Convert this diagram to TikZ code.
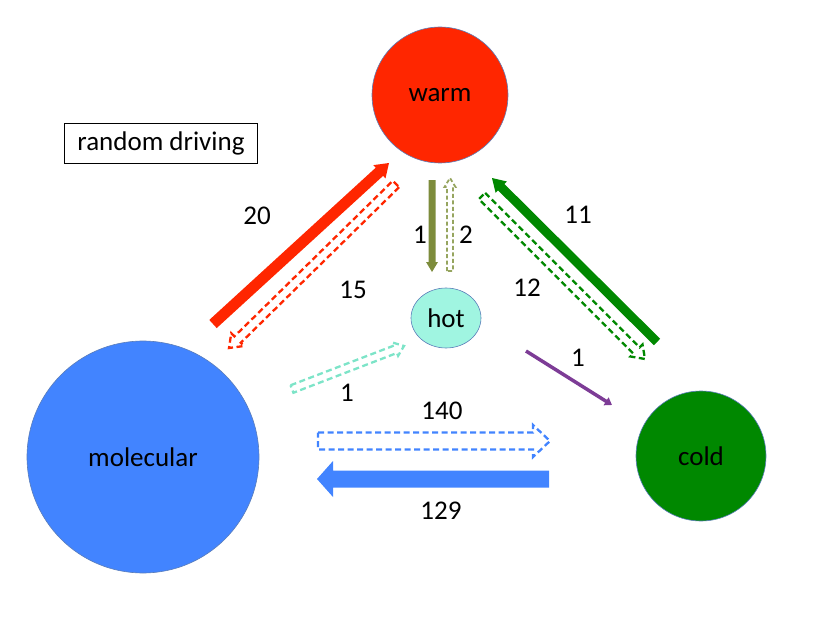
\documentclass[tikz,border=0pt]{standalone}
\usepackage{fontspec}
\setmainfont{Carlito}
\usetikzlibrary{calc,shapes.geometric,arrows.meta}

\definecolor{warmred}{RGB}{255,38,0}
\definecolor{molblue}{RGB}{66,132,255}
\definecolor{coldgreen}{RGB}{0,136,0}
\definecolor{hotaqua}{RGB}{160,245,225}
\definecolor{rimblue}{RGB}{90,125,185}
\definecolor{olive1}{RGB}{125,140,60}
\definecolor{olive2}{RGB}{150,165,95}
\definecolor{aquadash}{RGB}{125,228,200}
\definecolor{purp}{RGB}{125,60,150}

\tikzset{
  blob/.style={circle, draw=rimblue, line width=0.6pt, inner sep=0pt},
  rate/.style={inner sep=0pt},
  dashbox/.style={line width=2.3pt, dash pattern=on 6pt off 3.5pt},
  % shaft half width, head half width, head length
  blockarrow/.style n args={3}{to path={
    ($(\tikztostart)!#1!90:(\tikztotarget)$)
    -- ($($(\tikztotarget)!#3!(\tikztostart)$)!#1!90:(\tikztotarget)$)
    -- ($($(\tikztotarget)!#3!(\tikztostart)$)!#2!90:(\tikztotarget)$)
    -- (\tikztotarget)
    -- ($($(\tikztotarget)!#3!(\tikztostart)$)!#2!-90:(\tikztotarget)$)
    -- ($($(\tikztotarget)!#3!(\tikztostart)$)!#1!-90:(\tikztotarget)$)
    -- ($(\tikztostart)!#1!-90:(\tikztotarget)$)
    -- cycle}}
}

\begin{document}
\begin{tikzpicture}[x=1pt, y=-1pt, font=\fontsize{27}{32}\selectfont]
  \useasboundingbox (0,0) rectangle (830,623);

  % states
  \node[blob, fill=warmred, minimum size=136pt] (warm) at (440,95) {warm};
  \node[ellipse, draw=rimblue, line width=0.6pt, inner sep=0pt, fill=hotaqua,
        minimum width=70pt, minimum height=60pt] (hot) at (446,318) {hot};
  \node[blob, fill=coldgreen, minimum size=130pt] (cold) at (701,456) {cold};
  \node[blob, fill=molblue, minimum size=232pt] (mol) at (143,457) {molecular};
  \node[draw, line width=0.8pt, minimum width=193pt, minimum height=40pt] (drive) at (161,143) {random driving};

  % arrow ends
  \coordinate (mw1) at (213,324);  \coordinate (mw2) at (389,163);
  \coordinate (wm1) at (396,184);  \coordinate (wm2) at (229,348);
  \coordinate (wh1) at (432,180);  \coordinate (wh2) at (432,272);
  \coordinate (hw1) at (450,271);  \coordinate (hw2) at (450,178);
  \coordinate (cw1) at (657,342);  \coordinate (cw2) at (492,178);
  \coordinate (wc1) at (482,196);  \coordinate (wc2) at (645,359);
  \coordinate (mh1) at (292,389);  \coordinate (mh2) at (404,346);
  \coordinate (hc1) at (526,351);  \coordinate (hc2) at (612,405);
  \coordinate (mc1) at (318,441);  \coordinate (mc2) at (550,441);
  \coordinate (cm1) at (549,479);  \coordinate (cm2) at (317,479);

  % filled arrows
  \path[fill=warmred, blockarrow={5.5pt}{9pt}{13pt}] (mw1) to (mw2);
  \path[fill=olive1, blockarrow={3.5pt}{6pt}{10pt}] (wh1) to (wh2);
  \path[fill=coldgreen, blockarrow={4.5pt}{8pt}{13pt}] (cw1) to (cw2);
  \path[fill=molblue, blockarrow={8.5pt}{18pt}{16pt}] (cm1) to (cm2);
  \draw[purp, line width=3.5pt, -{Triangle[length=7pt,width=9pt]}] (hc1) -- (hc2);

  % dashed hollow arrows
  \draw[warmred, dashbox, blockarrow={4.5pt}{9pt}{12pt}] (wm1) to (wm2);
  \draw[olive2, dashbox, line width=1.8pt, dash pattern=on 4pt off 2.5pt, blockarrow={3pt}{5.5pt}{9pt}] (hw1) to (hw2);
  \draw[coldgreen, dashbox, blockarrow={4.5pt}{8.5pt}{12pt}] (wc1) to (wc2);
  \draw[aquadash, dashbox, blockarrow={4pt}{7pt}{9pt}] (mh1) to (mh2);
  \draw[molblue, dashbox, blockarrow={8.5pt}{16pt}{17pt}] (mc1) to (mc2);

  % rates
  \node[rate] (r20) at (257,216) {20};
  \node[rate] (r15) at (353,290) {15};
  \node[rate] (r1a) at (420,235) {1};
  \node[rate] (r2) at (466,235) {2};
  \node[rate] (r11) at (578,215) {11};
  \node[rate] (r12) at (527,288) {12};
  \node[rate] (r1b) at (578,358) {1};
  \node[rate] (r1c) at (347,393) {1};
  \node[rate] (r140) at (442,411) {140};
  \node[rate] (r129) at (441,511) {129};
\end{tikzpicture}
\end{document}
